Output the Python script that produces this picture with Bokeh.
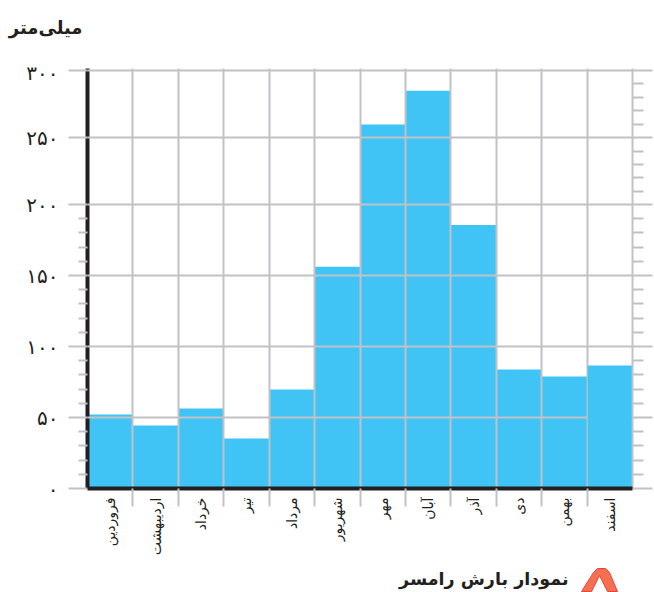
from bokeh.embed import file_html
from bokeh.resources import INLINE
from bokeh.plotting import figure
from bokeh.layouts import column
from bokeh.core.properties import value
from bokeh.models import (ColumnDataSource, FixedTicker, LinearAxis, Grid,
                          CDSView, IndexFilter)
import numpy as np

months = ["فروردین", "اردیبهشت", "خرداد", "تیر", "مرداد", "شهریور",
          "مهر", "آبان", "آذر", "دی", "بهمن", "اسفند"]
rain_mm = [53, 45.2, 57.3, 35.8, 71, 159, 261, 285.3, 189, 85.3, 80.3, 88.2]
y_ticks = [0, 50.9, 101.8, 152.7, 203.6, 251.6, 300]
y_labels = ["۰", "۵۰", "۱۰۰", "۱۵۰", "۲۰۰", "۲۵۰", "۳۰۰"]
title_text = "میلی‌متر"
caption_text = "نمودار بارش رامسر"

GRID = "#c2c2c6"
INK = "#231f20"
BLUE = "#40c4f5"
FONT = "DejaVu Sans"

W = 654
TOP_H, MID_BOTTOM, PAGE_H = 60, 558, 592
FL, FB = 87, 488  # frame left and bottom on the page
x = list(range(len(months)))
centers = [float(i) for i in x]
edges = [i - 0.5 for i in range(len(months) + 1)]

p = figure(width=W, height=MID_BOTTOM - TOP_H, output_backend="svg", toolbar_location=None,
           x_range=(-0.5, 11.5), y_range=(0, 301.2), frame_align=False,
           min_border_left=FL, min_border_right=W - 632, min_border_top=8, min_border_bottom=MID_BOTTOM - FB,
           x_axis_type=None, y_axis_type=None, background_fill_color="white")
p.outline_line_color = None

minors_all = []
for a, b in zip(y_ticks[:-1], y_ticks[1:]):
    minors_all += [a + (b - a) * k / 5 for k in range(1, 5)]
minors_low = [m for m in minors_all if m < y_ticks[4]]

src = ColumnDataSource(dict(x=x, top=rain_mm))
p.vbar(x="x", top="top", bottom=0, width=1.0, source=src, color=BLUE, line_color=None,
       view=CDSView(filter=IndexFilter(x[:-1])))
p.vbar(x="x", top="top", bottom=0, width=0.97, source=src, color=BLUE, line_color=None,
       view=CDSView(filter=IndexFilter(x[-1:])), level="annotation")

hgrid = Grid(dimension=1, ticker=FixedTicker(ticks=y_ticks), grid_line_color=GRID, grid_line_width=2, level="guide")
vgrid = Grid(dimension=0, ticker=FixedTicker(ticks=edges), grid_line_color=GRID, grid_line_width=2, level="guide")
p.add_layout(hgrid)
p.add_layout(vgrid)

left = LinearAxis(ticker=FixedTicker(ticks=y_ticks, minor_ticks=minors_low))
left.axis_line_color = INK
left.axis_line_width = 4
left.major_tick_line_color = GRID
left.major_tick_line_width = 2
left.major_tick_in = 0
left.major_tick_out = 19
left.minor_tick_line_color = GRID
left.minor_tick_line_width = 2
left.minor_tick_in = 0
left.minor_tick_out = 9
left.major_label_overrides = dict(zip(y_ticks, y_labels))
left.major_label_text_font = FONT
left.major_label_text_font_size = "20px"
left.major_label_text_color = INK
left.major_label_standoff = 10
p.add_layout(left, "left")

right = LinearAxis(ticker=FixedTicker(ticks=y_ticks, minor_ticks=minors_all))
right.axis_line_color = GRID
right.axis_line_width = 2
right.major_tick_line_color = GRID
right.major_tick_line_width = 2
right.major_tick_in = 0
right.major_tick_out = 20
right.minor_tick_line_color = GRID
right.minor_tick_line_width = 2
right.minor_tick_in = 0
right.minor_tick_out = 11
right.major_label_text_font_size = "0px"
right.major_label_text_color = None
p.add_layout(right, "right")

bottom = LinearAxis(ticker=FixedTicker(ticks=centers, minor_ticks=edges[1:-1]), level="overlay")
bottom.axis_line_color = INK
bottom.axis_line_width = 4
bottom.major_tick_line_color = None
bottom.major_tick_out = 0
bottom.major_tick_in = 0
bottom.minor_tick_line_color = GRID
bottom.minor_tick_line_width = 2
bottom.minor_tick_in = 0
bottom.minor_tick_out = 18
bottom.major_label_overrides = dict(zip(centers, months))
bottom.major_label_orientation = np.pi / 2
bottom.major_label_text_font = FONT
bottom.major_label_text_font_size = "14px"
bottom.major_label_text_color = INK
bottom.major_label_standoff = -9
p.add_layout(bottom, "below")


def strip(y0, y1):
    s = figure(width=W, height=y1 - y0, output_backend="svg", toolbar_location=None,
               x_range=(0, W), y_range=(y1, y0), min_border=0, frame_align=False,
               x_axis_type=None, y_axis_type=None)
    s.outline_line_color = None
    s.grid.visible = False
    return s


header = strip(0, TOP_H)
header.text(x=[82], y=[27], text=[title_text], text_font=value(FONT), text_font_size="18px",
            text_font_style="bold", text_color=INK, text_align="right", text_baseline="middle")

footer = strip(MID_BOTTOM, PAGE_H)
footer.text(x=[568], y=[578], text=[caption_text], text_font=value(FONT), text_font_size="17.5px",
            text_font_style="bold", text_color=INK, text_align="right", text_baseline="middle")
footer.patch(x=[581, 593, 597, 605, 609, 617, 607, 599, 591],
             y=[591, 572, 568, 568, 572, 591, 591, 575, 591],
             fill_color="#f4704e", line_color="#ef4040", line_width=1)

page = column(header, p, footer, spacing=0)
open("out.html", "w").write(file_html(page, INLINE))
